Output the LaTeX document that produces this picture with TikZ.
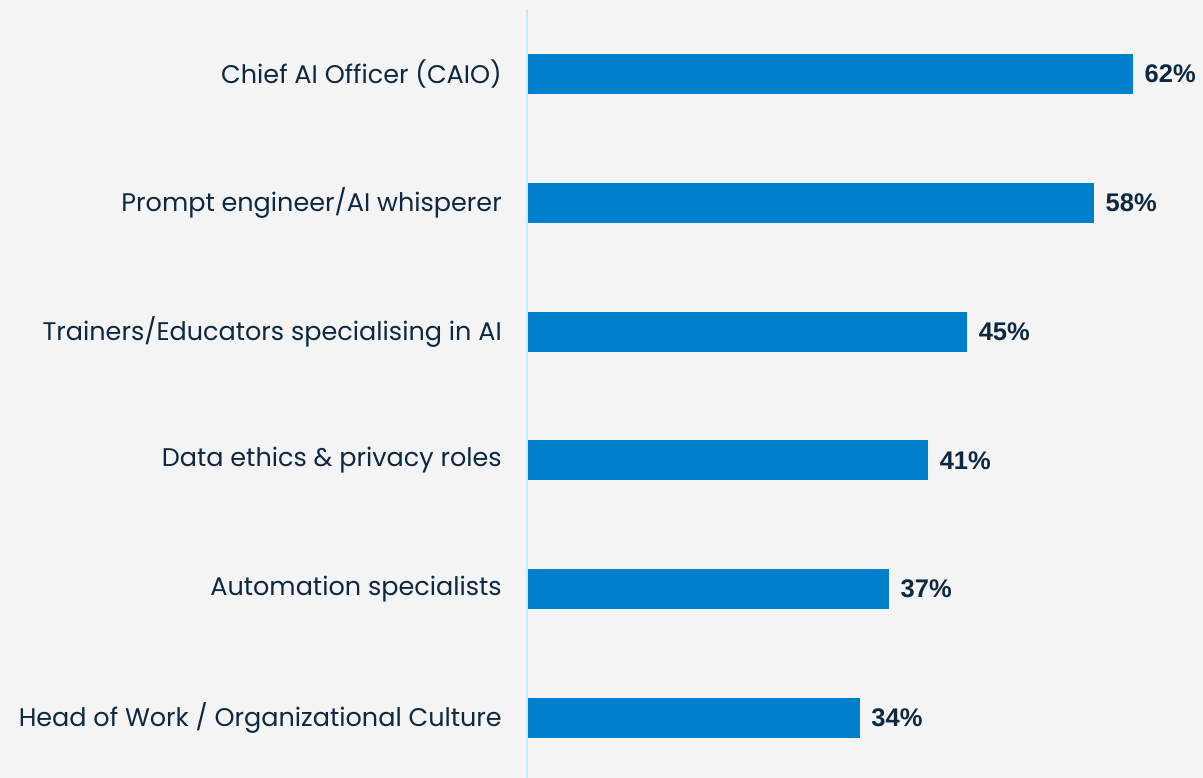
\documentclass[tikz,border=0pt]{standalone}
\usepackage{fontspec}
\setmainfont{Poppins}
\newfontfamily\pctfont{Liberation Sans}
\usepackage{xcolor}
\usetikzlibrary{
    positioning,
    calc
}
\definecolor{bgrey}{HTML}{F4F4F4}
\definecolor{barblue}{HTML}{0080CC}
\definecolor{axisblue}{HTML}{CDE6F7}
\definecolor{txtnavy}{HTML}{0E2841}
\tikzset{
    catlabel/.style={anchor=east, inner sep=0pt, text=txtnavy, font=\fontsize{25.5}{30}\selectfont},
    barnode/.style={anchor=west, fill=barblue, inner sep=0pt, minimum height=40pt},
    pctlabel/.style={anchor=west, inner sep=0pt, text=txtnavy, font=\pctfont\bfseries\fontsize{25.5}{30}\selectfont}
}

\begin{document}
\begin{tikzpicture}[x=1pt, y=-1pt]
                \fill[bgrey] (0,0) rectangle (1203,778);
                \useasboundingbox (0,0) rectangle (1203,778);
                \coordinate (axtop) at (527,9);
                \coordinate (axbot) at (527,778);
                \draw[axisblue, line width=1.6pt] (axtop) -- (axbot);
                \foreach \val/\name [count=\i] in {62/{Chief AI Officer (CAIO)},
                        58/{Prompt engineer/AI whisperer},
                        45/{Trainers/Educators specialising in AI},
                        41/{Data ethics \& privacy roles},
                        37/{Automation specialists},
                        34/{Head of Work / Organizational Culture}}{
                    \pgfmathsetmacro\yc{74+(\i-1)*128.8}
                    \node[catlabel] (lab\i) at (502,\yc) {\name};
                    \node[barnode, minimum width=\val*9.76pt] (bar\i) at (528,\yc) {};
                    \node[pctlabel, right=11pt of bar\i.east] (pct\i) {\val\%};
                }
            \end{tikzpicture}
\end{document}
